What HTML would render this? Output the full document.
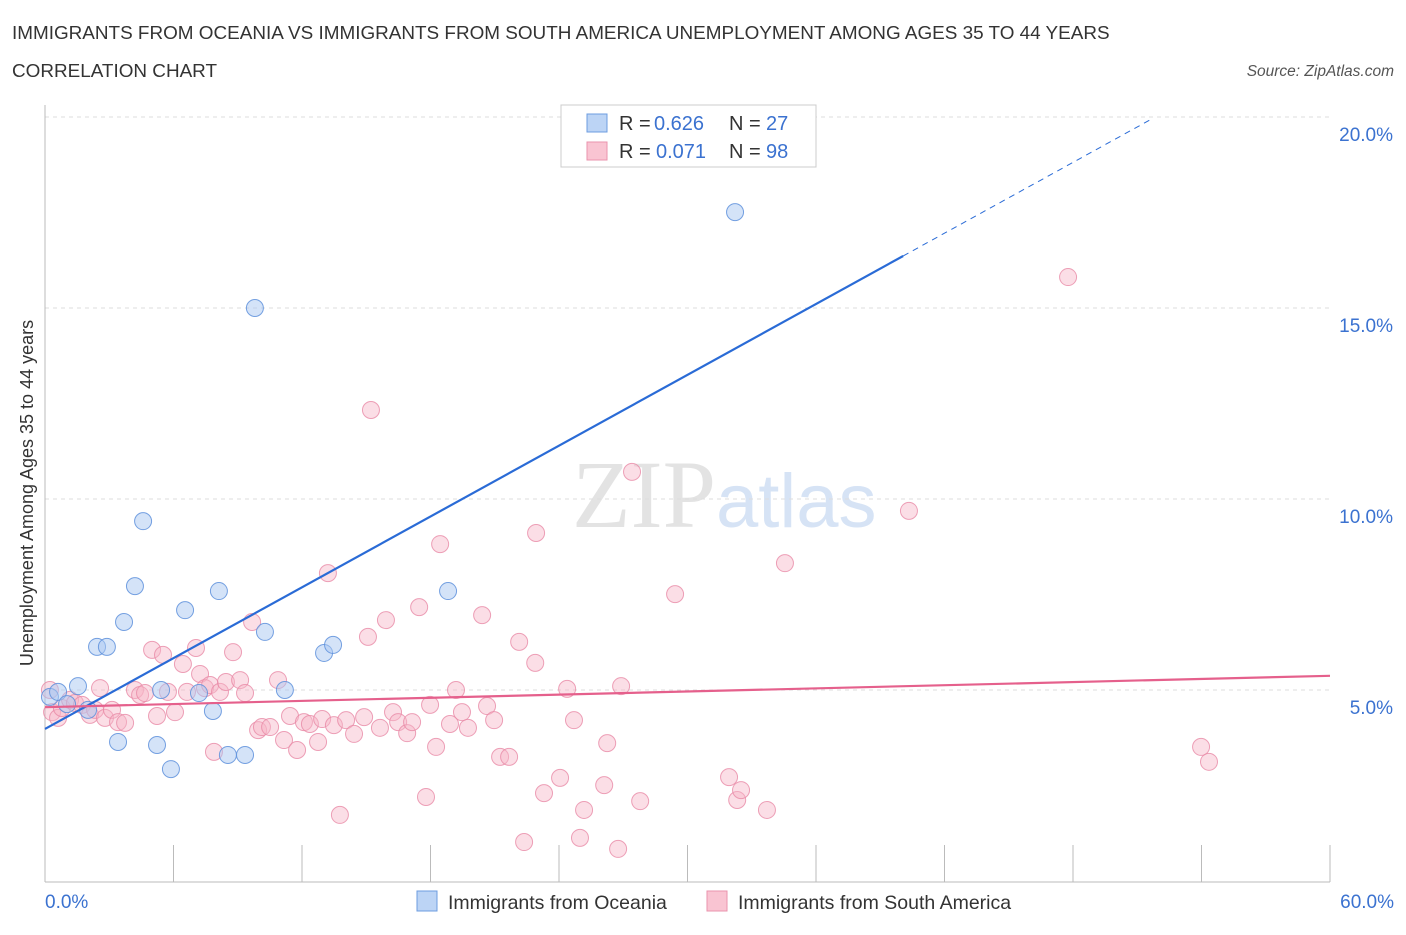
<!DOCTYPE html>
<html><head><meta charset="utf-8"><style>
body{margin:0;background:#fff;font-family:"Liberation Sans",sans-serif;}
</style></head><body>
<svg width="1406" height="930" xmlns="http://www.w3.org/2000/svg" style="font-family:'Liberation Sans',sans-serif">
<text x="12" y="39" font-size="18.9" fill="#333">IMMIGRANTS FROM OCEANIA VS IMMIGRANTS FROM SOUTH AMERICA UNEMPLOYMENT AMONG AGES 35 TO 44 YEARS</text>
<text x="12" y="77" font-size="18.9" fill="#333">CORRELATION CHART</text>
<text x="1394" y="76" font-size="15.5" fill="#555" font-style="italic" text-anchor="end">Source: ZipAtlas.com</text>
<text x="716" y="527" font-size="96" fill="#e3e3e3" text-anchor="end" font-family="Liberation Serif,serif">ZIP</text>
<text x="716" y="527" font-size="76" fill="#d6e3f5">atlas</text>
<g id="grid"></g>
<line x1="45" y1="105" x2="45" y2="882" stroke="#bbb"/>
<line x1="45" y1="882" x2="1330" y2="882" stroke="#bbb"/>
<g id="xticks"></g>
<text x="33" y="493" font-size="18" fill="#333" text-anchor="middle" transform="rotate(-90 33 493)">Unemployment Among Ages 35 to 44 years</text>
<text x="45" y="908" font-size="19" fill="#3b72d0">0.0%</text>
<text x="1394" y="908" font-size="19" fill="#3b72d0" text-anchor="end">60.0%</text>
<g id="pts"></g>
<g id="lines"></g>
<g>
<rect x="561" y="105" width="255" height="62" fill="#fff" stroke="#ccc"/>
<rect x="587" y="114" width="20" height="18" fill="#bcd4f5" stroke="#6d9ce0"/>
<rect x="587" y="142" width="20" height="18" fill="#f9c4d2" stroke="#ea93ad"/>
<text x="619" y="130" font-size="20" fill="#333">R = </text>
<text x="654" y="130" font-size="20" fill="#3b72d0">0.626</text>
<text x="729" y="130" font-size="20" fill="#333">N = </text>
<text x="766" y="130" font-size="20" fill="#3b72d0">27</text>
<text x="619" y="158" font-size="20" fill="#333">R = </text>
<text x="656" y="158" font-size="20" fill="#3b72d0">0.071</text>
<text x="729" y="158" font-size="20" fill="#333">N = </text>
<text x="766" y="158" font-size="20" fill="#3b72d0">98</text>
</g>
<g>
<rect x="417" y="891" width="20" height="20" fill="#bcd4f5" stroke="#6d9ce0"/>
<text x="448" y="909" font-size="19.5" fill="#333">Immigrants from Oceania</text>
<rect x="707" y="891" width="20" height="20" fill="#f9c4d2" stroke="#ea93ad"/>
<text x="738" y="909" font-size="19.5" fill="#333">Immigrants from South America</text>
</g>
</svg>
<script>
const yTicks=[5,10,15,20];
const xTickVals=[0,6,12,18,24,30,36,42,48,54,60];
const blueX=[0.23,0.61,1.03,1.54,2.01,2.43,2.89,3.41,3.69,4.20,4.58,5.23,5.42,5.88,6.54,7.19,7.84,8.12,8.54,9.34,9.80,10.27,11.20,13.03,13.45,18.82,32.22];
const blueY=[4.82,4.95,4.63,5.10,4.48,6.13,6.13,3.64,6.78,7.72,9.42,3.56,5.00,2.93,7.09,4.92,4.45,7.59,3.30,3.30,15.0,6.52,5.00,5.97,6.18,7.59,17.51];
const pinkX=[0.23,0.33,0.61,0.79,1.17,1.40,1.73,2.10,2.34,2.57,2.80,3.13,3.41,3.74,4.20,4.44,4.67,5.00,5.23,5.51,5.74,6.07,6.44,6.63,7.05,7.24,7.47,7.71,7.89,8.17,8.45,8.78,9.11,9.34,9.67,9.95,10.13,10.51,10.88,11.16,11.44,11.77,12.09,12.37,12.75,12.94,13.21,13.49,13.77,14.06,14.43,14.90,15.08,15.22,15.64,15.92,16.25,16.49,16.91,17.14,17.47,17.79,17.98,18.26,18.45,18.91,19.19,19.47,19.75,20.41,20.64,20.97,21.25,21.67,22.14,22.37,22.89,22.93,23.30,24.05,24.38,24.70,24.98,25.17,26.11,26.25,26.76,26.90,27.41,27.79,29.42,31.94,32.32,32.50,33.71,34.55,40.34,47.77,53.98,54.35];
const pinkY=[5.0,4.42,4.27,4.53,4.74,4.66,4.61,4.35,4.48,5.05,4.27,4.48,4.16,4.14,5.0,4.87,4.92,6.05,4.32,5.92,4.95,4.42,5.68,4.95,6.10,5.42,5.05,5.13,3.38,4.95,5.21,5.99,5.26,4.92,6.78,3.95,4.03,4.03,5.26,3.69,4.32,3.43,4.16,4.11,3.64,4.24,8.06,4.08,1.73,4.21,3.85,4.29,6.39,12.33,4.01,6.83,4.42,4.16,3.87,4.16,7.17,2.20,4.61,3.51,8.82,4.11,5.00,4.42,4.01,6.96,4.58,4.21,3.25,3.25,6.26,1.02,5.71,9.11,2.30,2.70,5.03,4.21,1.13,1.86,2.51,3.61,0.84,5.10,10.71,2.09,7.51,2.72,2.12,2.38,1.86,8.32,9.69,15.81,3.51,3.12];
const blueFit=[3.98,0.309], pinkFit=[4.55,0.0137];
const NS="http://www.w3.org/2000/svg";
const sx=v=>45+v/60*1285, sy=v=>881-v*38.2;
function mk(t,a,p){const e=document.createElementNS(NS,t);for(const k in a)e.setAttribute(k,a[k]);document.getElementById(p).appendChild(e);return e;}
yTicks.forEach(v=>{
 const l=mk('line',{x1:45,x2:1330,y1:sy(v),y2:sy(v),stroke:'#ddd','stroke-dasharray':'4 4'},'grid');
 
 
 const t=mk('text',{x:1393,y:sy(v)+24,'font-size':19,fill:'#3b72d0','text-anchor':'end'},'grid');
 t.textContent=v.toFixed(1)+'%';
 
 
});
xTickVals.forEach(v=>{
 if(v===0)return;
 const l=mk('line',{x1:sx(v),x2:sx(v),y1:845,y2:882,stroke:'#bbb'},'xticks');
 
 
});
pinkX.forEach((x,i)=>{
 const c=mk('circle',{cx:sx(x),cy:sy(pinkY[i]),r:8.5,fill:'#f7b6c8','fill-opacity':0.45,stroke:'#e98aa6','stroke-opacity':0.8},'pts');
 
 
});
blueX.forEach((x,i)=>{
 const c=mk('circle',{cx:sx(x),cy:sy(blueY[i]),r:8.5,fill:'#a9c8f2','fill-opacity':0.5,stroke:'#5e90dc','stroke-opacity':0.85},'pts');
 
 
});
const bl=mk('line',{x1:sx(0),y1:sy(blueFit[0]),x2:sx(40.07),y2:sy(blueFit[0]+blueFit[1]*40.07),stroke:'#2a6bd6','stroke-width':2.2},'lines');


const bd=mk('line',{x1:sx(40.07),y1:sy(blueFit[0]+blueFit[1]*40.07),x2:sx(51.6),y2:sy(blueFit[0]+blueFit[1]*51.6),stroke:'#2a6bd6','stroke-width':1,'stroke-dasharray':'6 5'},'lines');


const pl=mk('line',{x1:sx(0),y1:sy(pinkFit[0]),x2:sx(60),y2:sy(pinkFit[0]+pinkFit[1]*60),stroke:'#e5608c','stroke-width':2.2},'lines');


</script>
</body></html>
